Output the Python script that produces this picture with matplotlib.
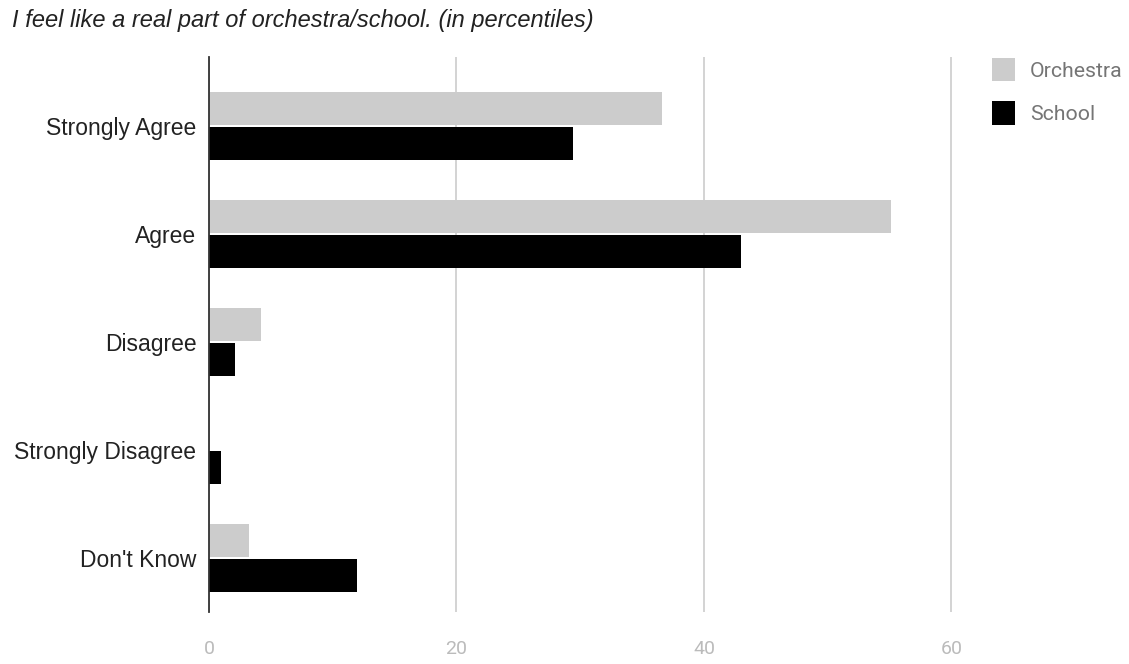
import numpy as np
import matplotlib.pyplot as plt

categories = ["Strongly Agree", "Agree", "Disagree", "Strongly Disagree", "Don't Know"]
orchestra = [36.6, 55.1, 4.2, 0.0, 3.2]
school = [29.4, 43.0, 2.1, 1.0, 12.0]
xticks = [0, 20, 40, 60]

fig = plt.figure(figsize=(11.29, 6.64), dpi=100)
ax = fig.add_axes([209 / 1129, 52 / 664, 761 / 1129, 555 / 664])

y = np.arange(len(categories))
h = 0.305
ax.barh(y - h / 2 - 0.01, orchestra, height=h, color="#cccccc", label="Orchestra", zorder=3)
ax.barh(y + h / 2 + 0.01, school, height=h, color="#000000", label="School", zorder=3)

ax.set_xlim(0, 61.5)
ax.set_ylim(4.5, -0.64)
ax.set_yticks(y)
ax.set_yticklabels(categories, fontsize=16.5, family="Liberation Sans", color="#222222")
ax.set_xticks(xticks)
ax.set_xticklabels([str(t) for t in xticks], fontsize=14, family="Roboto", color="#bbbbbb")
ax.tick_params(length=0, axis="both")
ax.tick_params(axis="x", pad=20)
ax.tick_params(axis="y", pad=9)
ax.grid(axis="x", color="#cccccc", linewidth=1.2, zorder=0)
for s in ["top", "right", "bottom"]:
    ax.spines[s].set_visible(False)
ax.spines["left"].set_color("#333333")
ax.spines["left"].set_linewidth(1.3)
ax.spines["left"].set_zorder(4)

fig.text(12 / 1129, 1 - 21 / 664, "I feel like a real part of orchestra/school. (in percentiles)",
         fontsize=17, style="italic", family="Liberation Sans", color="#222222", va="center")

leg = ax.legend(loc="upper left", bbox_to_anchor=(992 / 1129, 1 - 58 / 664),
                bbox_transform=fig.transFigure, frameon=False,
                prop={"family": "Roboto", "size": 15.3}, handlelength=1.08, handleheight=1.3,
                labelspacing=0.95, handletextpad=0.7, borderaxespad=0, borderpad=0)
for t in leg.get_texts():
    t.set_color("#757575")

fig.savefig("out.png", dpi=100)
